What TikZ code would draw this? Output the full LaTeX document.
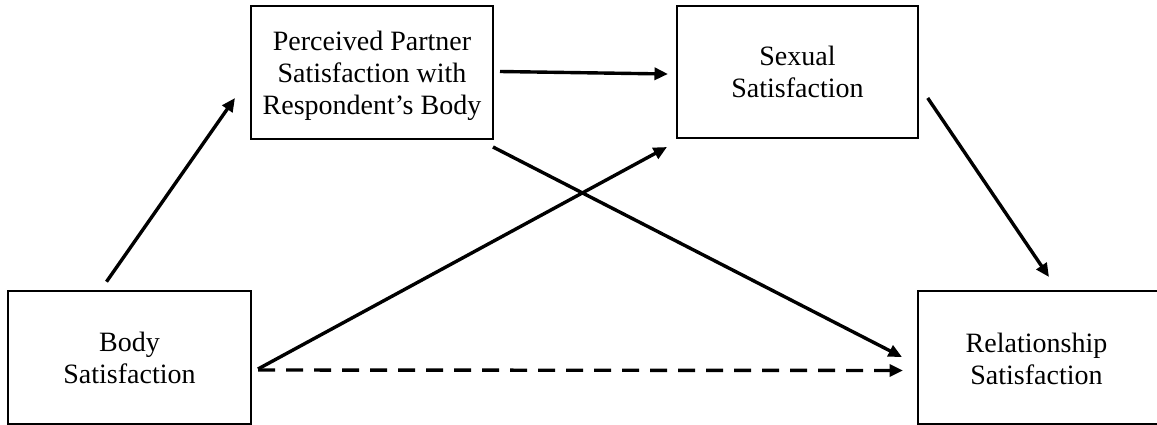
\documentclass[tikz,border=0pt]{standalone}
\usepackage{fontspec}
\setmainfont{Liberation Serif}
\usetikzlibrary{arrows.meta,calc}
\tikzset{
  box/.style={draw, line width=2.4pt, rectangle, inner sep=0pt, outer sep=0pt, align=center,
    font=\fontsize{28}{32}\selectfont, text depth=0pt},
  txt/.style={inner sep=0pt, outer sep=0pt, align=center,
    font=\fontsize{28}{32}\selectfont, text depth=0pt},
  conn/.style={line width=3.4pt, -{Triangle[length=13.5pt,width=12pt]}},
  dashconn/.style={conn, dash pattern=on 17pt off 11pt},
}
\begin{document}
\begin{tikzpicture}[x=1pt,y=-1pt]
\useasboundingbox (0,0) rectangle (1157,425);
\node[box, minimum width=243pt, minimum height=133pt] (body) at (129.5,357.5) {Body\\Satisfaction};
\node[box, minimum width=242pt, minimum height=133pt] (ppart) at (372,72.5) {Perceived Partner\\Satisfaction with\\Respondent’s Body};
\node[box, minimum width=241pt, minimum height=132pt] (sex) at (797.5,72) {Sexual\\Satisfaction};
\node[box, minimum width=242pt, minimum height=133pt] (rel) at (1039,357.5) {};
\node[txt] (relt) at (1036.5,358.5) {Relationship\\Satisfaction};
\draw[conn] ($(body.north)+(-23,-9.3)$) -- ($(ppart.west)+(-16,25.5)$);
\draw[conn] ($(ppart.east)+(7,-1)$) -- ($(sex.west)+(-9,2)$);
\draw[conn] ($(ppart.south east)+(0,8)$) -- ($(rel.west)+(-16,-0.5)$);
\draw[conn] ($(body.east)+(7,11.5)$) -- ($(sex.south west)+(-10,9)$);
\draw[conn] ($(sex.east)+(9.7,26)$) -- ($(rel.north)+(10,-14)$);
\draw[dashconn] ($(body.east)+(7,12.5)$) -- ($(rel.west)+(-15,13)$);
\end{tikzpicture}
\end{document}
